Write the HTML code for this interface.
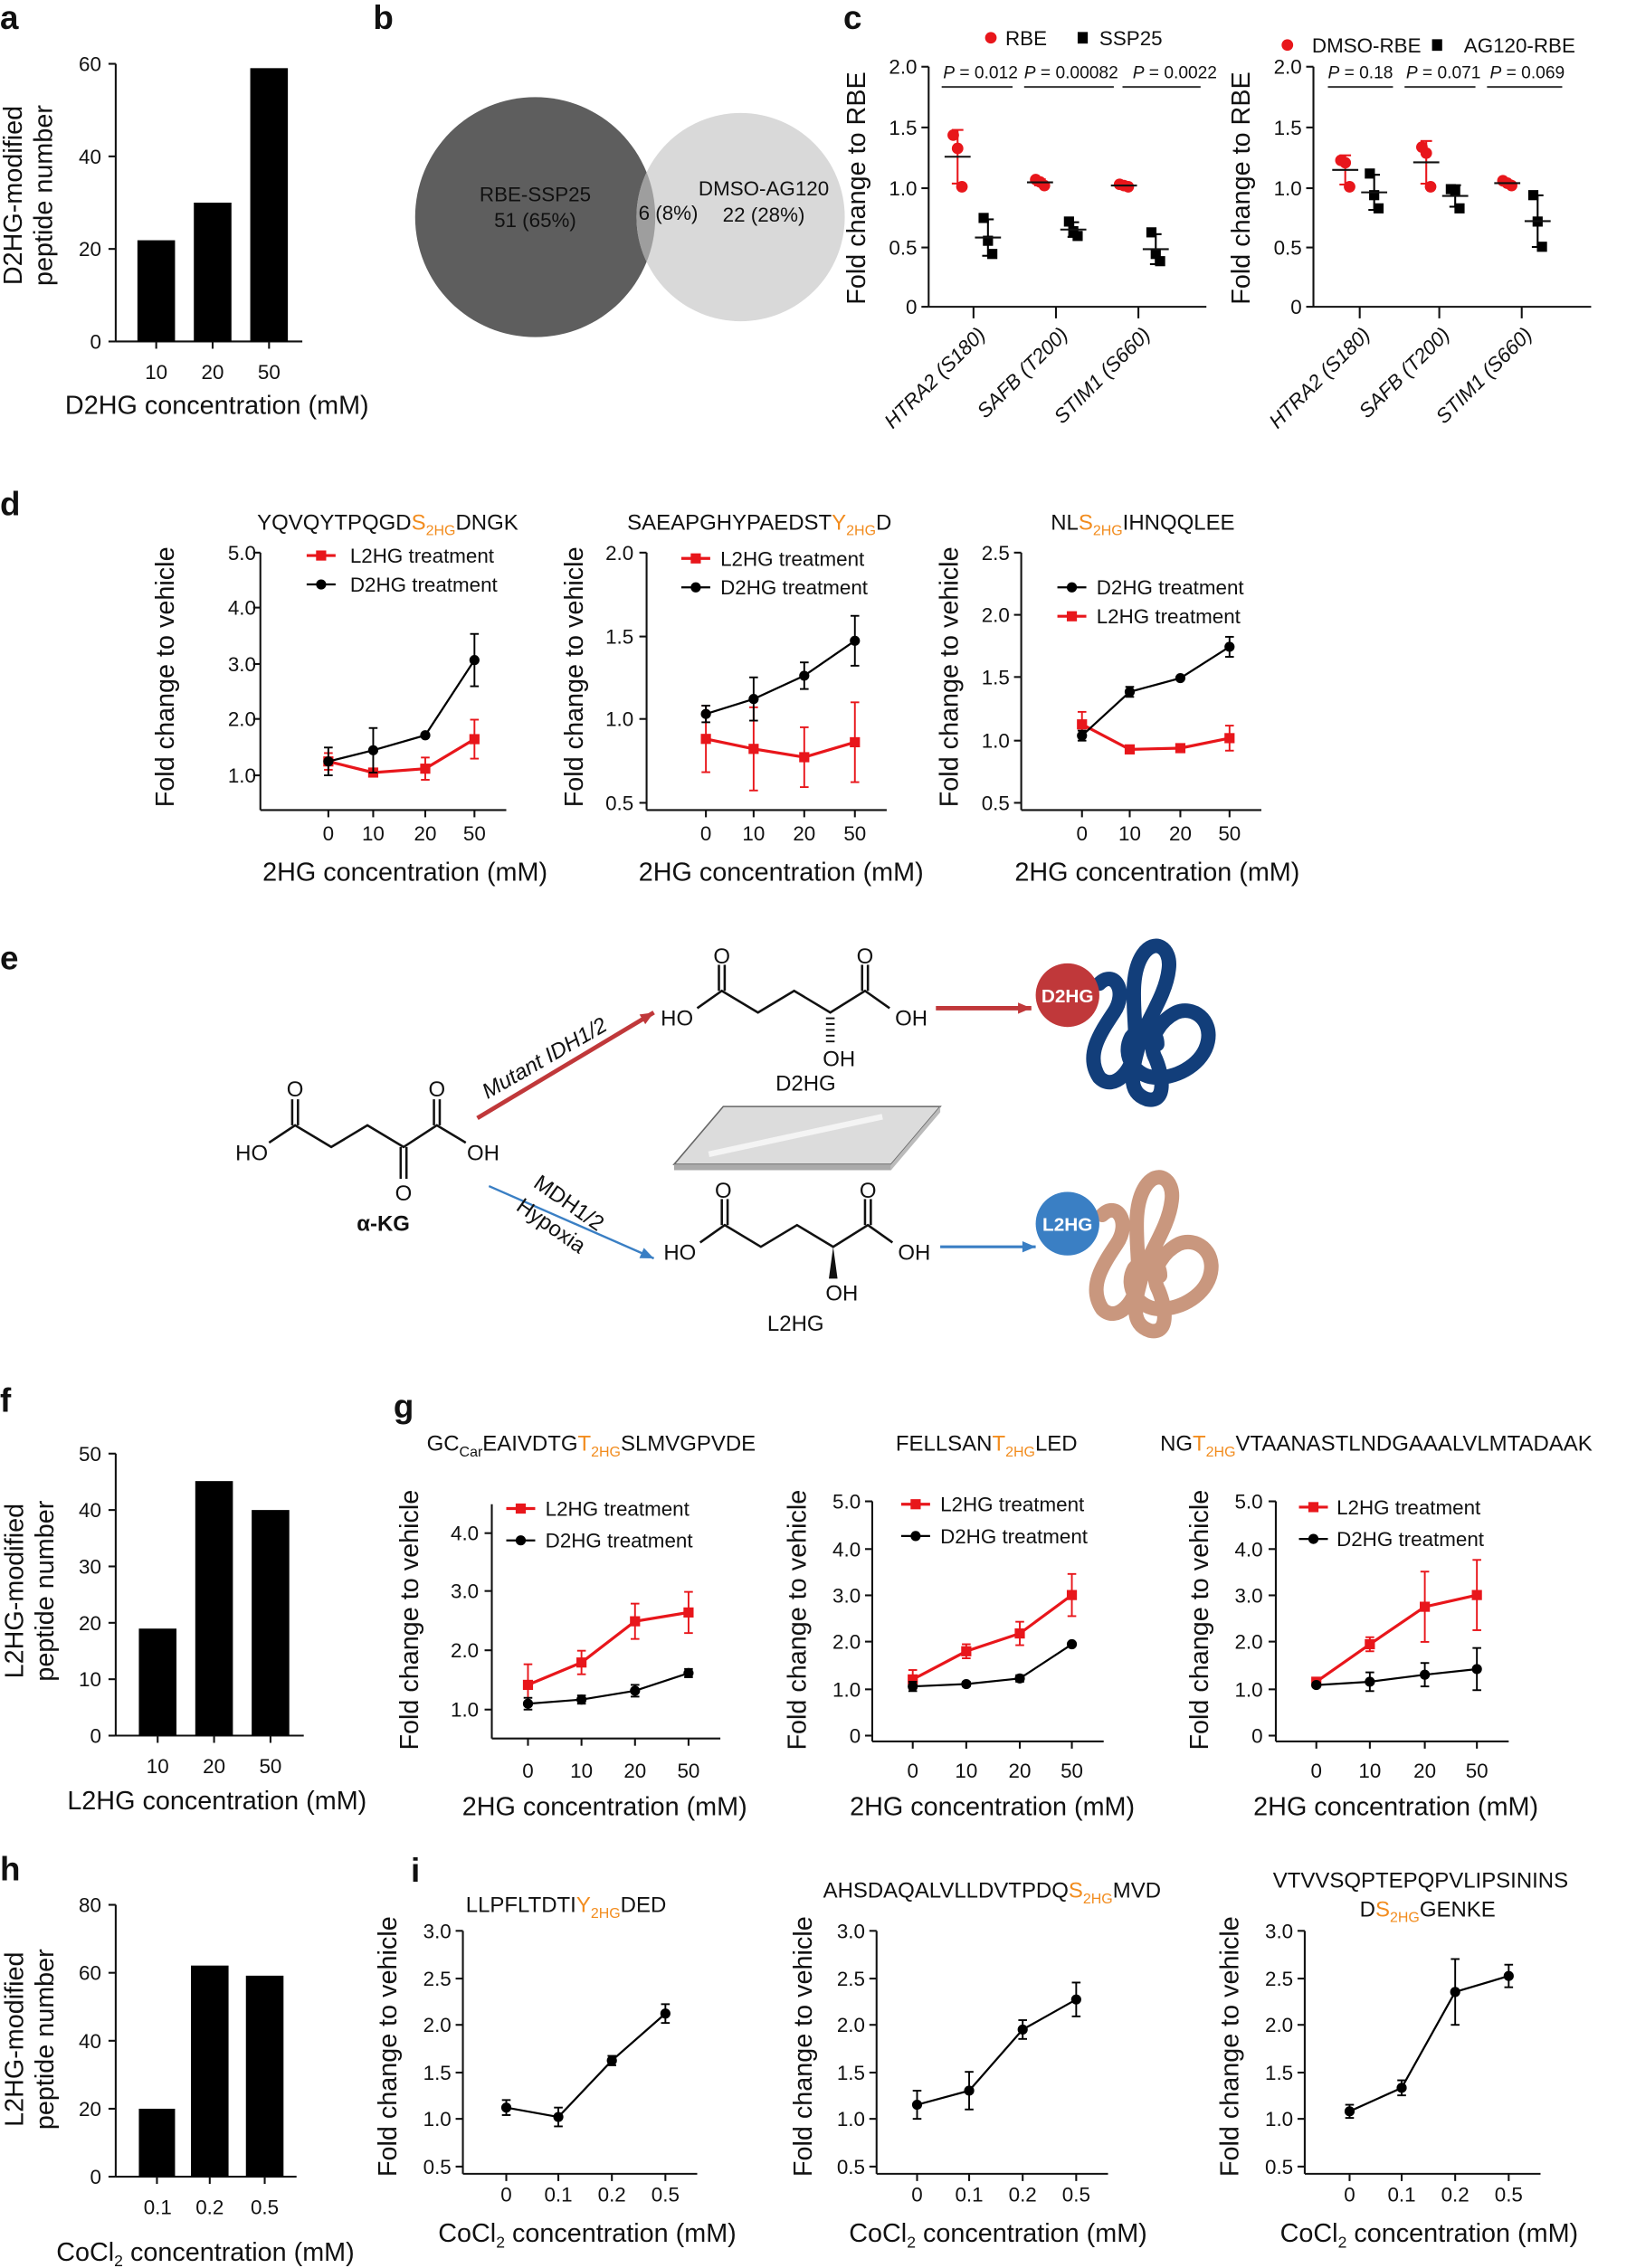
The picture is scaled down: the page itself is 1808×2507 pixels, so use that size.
<!DOCTYPE html>
<html><head><meta charset="utf-8">
<style>
html,body{margin:0;padding:0;background:#fff;}
svg{display:block;}
text{font-family:"Liberation Sans",sans-serif;fill:#111;}
.t{font-size:14px;}
.ax{font-size:18px;}
.pl{font-size:23px;font-weight:bold;}
.lg{font-size:14px;}
.o{fill:#f28c1e;}
</style></head><body>
<svg id="s" width="1808" height="2507" viewBox="0 0 1131 1568" xmlns="http://www.w3.org/2000/svg">
<g id="g" stroke-linecap="butt"></g>

<text class="pl" x="0" y="20">a</text>
<text class="pl" x="258" y="20">b</text>
<text class="pl" x="583" y="20">c</text>
<text class="pl" x="0" y="356">d</text>
<text class="pl" x="0" y="670">e</text>
<text class="pl" x="0" y="976">f</text>
<text class="pl" x="272" y="980">g</text>
<text class="pl" x="0" y="1300">h</text>
<text class="pl" x="284" y="1301">i</text>

<!-- a -->
<g class="t" text-anchor="end">
<text x="70" y="49">60</text><text x="70" y="113">40</text><text x="70" y="177">20</text><text x="70" y="241">0</text>
</g>
<g class="t" text-anchor="middle">
<text x="108" y="262">10</text><text x="147" y="262">20</text><text x="186" y="262">50</text>
</g>
<text class="ax" x="150" y="286" text-anchor="middle">D2HG concentration (mM)</text>
<text class="ax" transform="translate(15,135) rotate(-90)" text-anchor="middle">D2HG-modified</text>
<text class="ax" transform="translate(36,135) rotate(-90)" text-anchor="middle">peptide number</text>

<!-- b -->
<circle cx="370" cy="150" r="83" fill="#5e5e5e"/>
<circle cx="512" cy="150" r="72" fill="#d9d9d9"/>
<clipPath id="cb"><circle cx="370" cy="150" r="83"/></clipPath>
<circle cx="512" cy="150" r="72" fill="#9e9e9e" clip-path="url(#cb)"/>
<text class="t" x="370" y="139" text-anchor="middle" fill="#222">RBE-SSP25</text>
<text class="t" x="370" y="157" text-anchor="middle" fill="#222">51 (65%)</text>
<text class="t" x="462" y="152" text-anchor="middle" fill="#222">6 (8%)</text>
<text class="t" x="528" y="135" text-anchor="middle" fill="#222">DMSO-AG120</text>
<text class="t" x="528" y="153" text-anchor="middle" fill="#222">22 (28%)</text>

<!-- c -->
<g class="t" text-anchor="end">
<text x="634" y="51">2.0</text><text x="634" y="93">1.5</text><text x="634" y="135">1.0</text><text x="634" y="176">0.5</text><text x="634" y="217">0</text>
<text x="900" y="51">2.0</text><text x="900" y="93">1.5</text><text x="900" y="135">1.0</text><text x="900" y="176">0.5</text><text x="900" y="217">0</text>
</g>
<text class="ax" transform="translate(598,130) rotate(-90)" text-anchor="middle">Fold change to RBE</text>
<text class="ax" transform="translate(864,130) rotate(-90)" text-anchor="middle">Fold change to RBE</text>
<circle cx="685" cy="26" r="4" fill="#e8161b"/><text class="lg" x="695" y="31">RBE</text>
<rect x="745" y="22" width="7" height="8" fill="#000"/><text class="lg" x="760" y="31">SSP25</text>
<circle cx="890" cy="31" r="4" fill="#e8161b"/><text class="lg" x="907" y="36">DMSO-RBE</text>
<rect x="990" y="27" width="7" height="8" fill="#000"/><text class="lg" x="1012" y="36">AG120-RBE</text>
<g style="font-size:12px">
<text x="652" y="54"><tspan font-style="italic">P</tspan> = 0.012</text>
<text x="708" y="54"><tspan font-style="italic">P</tspan> = 0.00082</text>
<text x="783" y="54"><tspan font-style="italic">P</tspan> = 0.0022</text>
<text x="918" y="54"><tspan font-style="italic">P</tspan> = 0.18</text>
<text x="972" y="54"><tspan font-style="italic">P</tspan> = 0.071</text>
<text x="1030" y="54"><tspan font-style="italic">P</tspan> = 0.069</text>
</g>
<g class="t" text-anchor="end" font-style="italic">
<text transform="translate(682,232) rotate(-45)">HTRA2 (S180)</text>
<text transform="translate(739,232) rotate(-45)">SAFB (T200)</text>
<text transform="translate(796,232) rotate(-45)">STIM1 (S660)</text>
<text transform="translate(948,232) rotate(-45)">HTRA2 (S180)</text>
<text transform="translate(1003,232) rotate(-45)">SAFB (T200)</text>
<text transform="translate(1060,232) rotate(-45)">STIM1 (S660)</text>
</g>

<!-- d -->
<text class="t" x="268" y="366" text-anchor="middle" style="font-size:15px">YQVQYTPQGD<tspan class="o">S</tspan><tspan class="o" font-size="10" dy="4">2HG</tspan><tspan dy="-4">DNGK</tspan></text>
<text class="t" x="525" y="366" text-anchor="middle" style="font-size:15px">SAEAPGHYPAEDST<tspan class="o">Y</tspan><tspan class="o" font-size="10" dy="4">2HG</tspan><tspan dy="-4">D</tspan></text>
<text class="t" x="790" y="366" text-anchor="middle" style="font-size:15px">NL<tspan class="o">S</tspan><tspan class="o" font-size="10" dy="4">2HG</tspan><tspan dy="-4">IHNQQLEE</tspan></text>
<g class="t" text-anchor="end">
<text x="177" y="387">5.0</text><text x="177" y="425">4.0</text><text x="177" y="464">3.0</text><text x="177" y="502">2.0</text><text x="177" y="541">1.0</text>
<text x="438" y="387">2.0</text><text x="438" y="445">1.5</text><text x="438" y="502">1.0</text><text x="438" y="560">0.5</text>
<text x="698" y="387">2.5</text><text x="698" y="430">2.0</text><text x="698" y="473">1.5</text><text x="698" y="517">1.0</text><text x="698" y="560">0.5</text>
</g>
<g class="t" text-anchor="middle">
<text x="227" y="581">0</text><text x="258" y="581">10</text><text x="294" y="581">20</text><text x="328" y="581">50</text>
<text x="488" y="581">0</text><text x="521" y="581">10</text><text x="556" y="581">20</text><text x="591" y="581">50</text>
<text x="748" y="581">0</text><text x="781" y="581">10</text><text x="816" y="581">20</text><text x="850" y="581">50</text>
</g>
<g class="ax" text-anchor="middle">
<text x="280" y="609">2HG concentration (mM)</text>
<text x="540" y="609">2HG concentration (mM)</text>
<text x="800" y="609">2HG concentration (mM)</text>
<text transform="translate(120,468) rotate(-90)">Fold change to vehicle</text>
<text transform="translate(403,468) rotate(-90)">Fold change to vehicle</text>
<text transform="translate(662,468) rotate(-90)">Fold change to vehicle</text>
</g>
<g class="lg">
<text x="242" y="389">L2HG treatment</text><text x="242" y="409">D2HG treatment</text>
<text x="498" y="391">L2HG treatment</text><text x="498" y="411">D2HG treatment</text>
<text x="758" y="411">D2HG treatment</text><text x="758" y="431">L2HG treatment</text>
</g>

<!-- e -->
<g id="chem" fill="none" stroke="#111" stroke-width="1.6"></g>
<g style="font-size:15px" text-anchor="middle">
<text x="174" y="802">HO</text><text x="204" y="758">O</text><text x="302" y="758">O</text><text x="334" y="802">OH</text><text x="279" y="830">O</text>
<text x="468" y="709">HO</text><text x="499" y="666">O</text><text x="598" y="666">O</text><text x="630" y="709">OH</text><text x="580" y="737">OH</text>
<text x="557" y="754">D2HG</text>
<text x="470" y="871">HO</text><text x="500" y="828">O</text><text x="600" y="828">O</text><text x="632" y="871">OH</text><text x="582" y="899">OH</text>
<text x="550" y="920">L2HG</text>
</g>
<text x="265" y="851" text-anchor="middle" style="font-size:15px;font-weight:bold">α-KG</text>
<text transform="translate(337,760) rotate(-30)" style="font-size:15px;font-style:italic">Mutant IDH1/2</text>
<text transform="translate(368,820) rotate(35)" style="font-size:15px">MDH1/2</text>
<text transform="translate(356,836) rotate(35)" style="font-size:15px">Hypoxia</text>
<circle cx="738" cy="688" r="22" fill="#c0383a"/>
<text x="738" y="693" text-anchor="middle" style="font-size:13px;font-weight:bold;fill:#fff">D2HG</text>
<circle cx="738" cy="846" r="22" fill="#3a7fc4"/>
<text x="738" y="851" text-anchor="middle" style="font-size:13px;font-weight:bold;fill:#fff">L2HG</text>

<!-- f -->
<g class="t" text-anchor="end">
<text x="70" y="1010">50</text><text x="70" y="1049">40</text><text x="70" y="1088">30</text><text x="70" y="1127">20</text><text x="70" y="1166">10</text><text x="70" y="1205">0</text>
</g>
<g class="t" text-anchor="middle"><text x="109" y="1226">10</text><text x="148" y="1226">20</text><text x="187" y="1226">50</text></g>
<text class="ax" x="150" y="1251" text-anchor="middle">L2HG concentration (mM)</text>
<text class="ax" transform="translate(16,1100) rotate(-90)" text-anchor="middle">L2HG-modified</text>
<text class="ax" transform="translate(37,1100) rotate(-90)" text-anchor="middle">peptide number</text>

<!-- g -->
<text x="295" y="1003" style="font-size:15px">GC<tspan font-size="10" dy="4">Car</tspan><tspan dy="-4">EAIVDTG</tspan><tspan class="o">T</tspan><tspan class="o" font-size="10" dy="4">2HG</tspan><tspan dy="-4">SLMVGPVDE</tspan></text>
<text x="682" y="1003" text-anchor="middle" style="font-size:15px">FELLSAN<tspan class="o">T</tspan><tspan class="o" font-size="10" dy="4">2HG</tspan><tspan dy="-4">LED</tspan></text>
<text x="802" y="1003" style="font-size:15px">NG<tspan class="o">T</tspan><tspan class="o" font-size="10" dy="4">2HG</tspan><tspan dy="-4">VTAANASTLNDGAAALVLMTADAAK</tspan></text>
<g class="t" text-anchor="end">
<text x="331" y="1065">4.0</text><text x="331" y="1105">3.0</text><text x="331" y="1146">2.0</text><text x="331" y="1187">1.0</text>
<text x="595" y="1043">5.0</text><text x="595" y="1076">4.0</text><text x="595" y="1108">3.0</text><text x="595" y="1140">2.0</text><text x="595" y="1173">1.0</text><text x="595" y="1205">0</text>
<text x="873" y="1043">5.0</text><text x="873" y="1076">4.0</text><text x="873" y="1108">3.0</text><text x="873" y="1140">2.0</text><text x="873" y="1173">1.0</text><text x="873" y="1205">0</text>
</g>
<g class="t" text-anchor="middle">
<text x="365" y="1229">0</text><text x="402" y="1229">10</text><text x="439" y="1229">20</text><text x="476" y="1229">50</text>
<text x="631" y="1229">0</text><text x="668" y="1229">10</text><text x="705" y="1229">20</text><text x="741" y="1229">50</text>
<text x="910" y="1229">0</text><text x="947" y="1229">10</text><text x="985" y="1229">20</text><text x="1021" y="1229">50</text>
</g>
<g class="ax" text-anchor="middle">
<text x="418" y="1255">2HG concentration (mM)</text>
<text x="686" y="1255">2HG concentration (mM)</text>
<text x="965" y="1255">2HG concentration (mM)</text>
<text transform="translate(289,1120) rotate(-90)">Fold change to vehicle</text>
<text transform="translate(557,1120) rotate(-90)">Fold change to vehicle</text>
<text transform="translate(835,1120) rotate(-90)">Fold change to vehicle</text>
</g>
<g class="lg">
<text x="377" y="1048">L2HG treatment</text><text x="377" y="1070">D2HG treatment</text>
<text x="650" y="1045">L2HG treatment</text><text x="650" y="1067">D2HG treatment</text>
<text x="924" y="1047">L2HG treatment</text><text x="924" y="1069">D2HG treatment</text>
</g>

<!-- h -->
<g class="t" text-anchor="end">
<text x="70" y="1322">80</text><text x="70" y="1369">60</text><text x="70" y="1416">40</text><text x="70" y="1463">20</text><text x="70" y="1510">0</text>
</g>
<g class="t" text-anchor="middle"><text x="109" y="1531">0.1</text><text x="145" y="1531">0.2</text><text x="183" y="1531">0.5</text></g>
<text class="ax" x="142" y="1563" text-anchor="middle">CoCl<tspan font-size="11" dy="4">2</tspan><tspan dy="-4"> concentration (mM)</tspan></text>
<text class="ax" transform="translate(16,1410) rotate(-90)" text-anchor="middle">L2HG-modified</text>
<text class="ax" transform="translate(37,1410) rotate(-90)" text-anchor="middle">peptide number</text>

<!-- i -->
<text x="322" y="1322" style="font-size:15px">LLPFLTDTI<tspan class="o">Y</tspan><tspan class="o" font-size="10" dy="4">2HG</tspan><tspan dy="-4">DED</tspan></text>
<text x="569" y="1312" style="font-size:15px">AHSDAQALVLLDVTPDQ<tspan class="o">S</tspan><tspan class="o" font-size="10" dy="4">2HG</tspan><tspan dy="-4">MVD</tspan></text>
<text x="880" y="1305" style="font-size:15px">VTVVSQPTEPQPVLIPSININS</text>
<text x="940" y="1325" style="font-size:15px">D<tspan class="o">S</tspan><tspan class="o" font-size="10" dy="4">2HG</tspan><tspan dy="-4">GENKE</tspan></text>
<g class="t" text-anchor="end">
<text x="312" y="1340">3.0</text><text x="312" y="1373">2.5</text><text x="312" y="1405">2.0</text><text x="312" y="1438">1.5</text><text x="312" y="1470">1.0</text><text x="312" y="1503">0.5</text>
<text x="598" y="1340">3.0</text><text x="598" y="1373">2.5</text><text x="598" y="1405">2.0</text><text x="598" y="1438">1.5</text><text x="598" y="1470">1.0</text><text x="598" y="1503">0.5</text>
<text x="894" y="1340">3.0</text><text x="894" y="1373">2.5</text><text x="894" y="1405">2.0</text><text x="894" y="1438">1.5</text><text x="894" y="1470">1.0</text><text x="894" y="1503">0.5</text>
</g>
<g class="t" text-anchor="middle">
<text x="350" y="1522">0</text><text x="386" y="1522">0.1</text><text x="423" y="1522">0.2</text><text x="460" y="1522">0.5</text>
<text x="634" y="1522">0</text><text x="670" y="1522">0.1</text><text x="707" y="1522">0.2</text><text x="744" y="1522">0.5</text>
<text x="933" y="1522">0</text><text x="969" y="1522">0.1</text><text x="1006" y="1522">0.2</text><text x="1043" y="1522">0.5</text>
</g>
<g class="ax" text-anchor="middle">
<text x="406" y="1550">CoCl<tspan font-size="11" dy="4">2</tspan><tspan dy="-4"> concentration (mM)</tspan></text>
<text x="690" y="1550">CoCl<tspan font-size="11" dy="4">2</tspan><tspan dy="-4"> concentration (mM)</tspan></text>
<text x="988" y="1550">CoCl<tspan font-size="11" dy="4">2</tspan><tspan dy="-4"> concentration (mM)</tspan></text>
<text transform="translate(274,1415) rotate(-90)">Fold change to vehicle</text>
<text transform="translate(561,1415) rotate(-90)">Fold change to vehicle</text>
<text transform="translate(856,1415) rotate(-90)">Fold change to vehicle</text>
</g>
</svg>
<script>
var G=document.getElementById('g');var NS='http://www.w3.org/2000/svg';
function el(t,a,p){var e=document.createElementNS(NS,t);for(var k in a)e.setAttribute(k,a[k]);(p||G).appendChild(e);return e;}
function ln(x1,y1,x2,y2,c,w){el('line',{x1:x1,y1:y1,x2:x2,y2:y2,stroke:c||'#111','stroke-width':w||1.3});}
var RED='#e8161b';
function bars(ax,ytop,ybot,ticks,bs){ln(ax,ytop,ax,ybot);ln(ax,ybot,bs[bs.length-1][0]+bs[0][1]+10,ybot);
 ticks.forEach(function(y){ln(ax-5,y,ax,y);});
 bs.forEach(function(b){el('rect',{x:b[0],y:b[2],width:b[1],height:ybot-b[2],fill:'#000'});ln(b[0]+b[1]/2,ybot,b[0]+b[1]/2,ybot+5);});}
bars(80,44,236,[44,108,172,236],[[95,26,166],[134,26,140],[173,26,47]]);
bars(80,1005,1200,[1005,1044,1083,1122,1161,1200],[[96,26,1126],[135,26,1024],[174,26,1044]]);
bars(80,1317,1505,[1317,1364,1411,1458,1505],[[96,25,1458],[132,26,1359],[170,26,1366]]);
function dots(ax,xs,ps,pl){var y=function(v){return 212-83*v;};
 ln(ax,46,ax,212);ln(ax,212,ax+192,212);[46,88,130,171,212].forEach(function(t){ln(ax-5,t,ax,t);});
 xs.forEach(function(x){ln(x,212,x,220);});
 pl.forEach(function(p){ln(p[0],60,p[1],60,'#333',1.2);});
 ps.forEach(function(g){var m=g.v.reduce(function(a,b){return a+b;})/3;var sd=Math.sqrt(g.v.reduce(function(a,b){return a+(b-m)*(b-m);},0)/2);
  ln(g.x,y(m-sd),g.x,y(m+sd),g.c,1.3);ln(g.x-4,y(m+sd),g.x+4,y(m+sd),g.c,1.3);ln(g.x-4,y(m-sd),g.x+4,y(m-sd),g.c,1.3);
  g.v.forEach(function(v,i){var xx=g.x+(i-1)*3;if(g.c==RED)el('circle',{cx:xx,cy:y(v),r:4,fill:RED});else el('rect',{x:xx-3.5,y:y(v)-3.5,width:7,height:7,fill:'#000'});});
  ln(g.x-9,y(m),g.x+9,y(m),'#111',1.3);});}
dots(642,[673,730,787],[{x:662,c:RED,v:[1.43,1.32,1.0]},{x:683,c:'#000',v:[0.74,0.55,0.44]},{x:719,c:RED,v:[1.06,1.04,1.01]},{x:742,c:'#000',v:[0.71,0.63,0.59]},{x:777,c:RED,v:[1.02,1.01,1.0]},{x:799,c:'#000',v:[0.62,0.44,0.38]}],[[651,700],[708,770],[776,830]]);
dots(908,[940,995,1052],[{x:930,c:RED,v:[1.22,1.2,1.0]},{x:950,c:'#000',v:[1.11,0.93,0.82]},{x:986,c:RED,v:[1.33,1.28,1.0]},{x:1006,c:'#000',v:[0.98,0.97,0.82]},{x:1042,c:RED,v:[1.05,1.03,1.01]},{x:1063,c:'#000',v:[0.93,0.71,0.5]}],[[918,963],[971,1020],[1028,1080]]);
function lp(o){ln(o.ax,o.top,o.ax,o.bot);ln(o.ax,o.bot,o.xs[3]+22,o.bot);o.ty.forEach(function(t){ln(o.ax-5,t,o.ax,t);});
 o.xs.forEach(function(x){ln(x,o.bot,x,o.bot+5);});
 o.s.forEach(function(s){var c=s.r?RED:'#000';var pts=s.v.map(function(v,i){return o.xs[i]+','+o.y(v);}).join(' ');
  el('polyline',{points:pts,fill:'none',stroke:c,'stroke-width':s.r?2:1.4});
  s.v.forEach(function(v,i){var x=o.xs[i],e=s.e[i];if(e>0){ln(x,o.y(v-e),x,o.y(v+e),c,1.2);ln(x-3,o.y(v-e),x+3,o.y(v-e),c,1.2);ln(x-3,o.y(v+e),x+3,o.y(v+e),c,1.2);}
   if(s.r)el('rect',{x:x-3.5,y:o.y(v)-3.5,width:7,height:7,fill:RED});else el('circle',{cx:x,cy:o.y(v),r:3.5,fill:'#000'});});});
 (o.lg||[]).forEach(function(l){var c=l[2]?RED:'#000';ln(l[0],l[1],l[0]+20,l[1],c,l[2]?2:1.4);if(l[2])el('rect',{x:l[0]+6.5,y:l[1]-3.5,width:7,height:7,fill:RED});else el('circle',{cx:l[0]+10,cy:l[1],r:3.5,fill:'#000'});});}
lp({ax:180,top:382,bot:560,ty:[382,420,459,497,536],xs:[227,258,294,328],y:function(v){return 536-38.5*(v-1);},
 s:[{r:1,v:[1.25,1.05,1.12,1.65],e:[0.15,0.05,0.2,0.35]},{r:0,v:[1.25,1.45,1.72,3.07],e:[0.25,0.4,0,0.47]}],lg:[[212,384,1],[212,404,0]]});
lp({ax:447,top:382,bot:560,ty:[382,440,497,555],xs:[488,521,556,591],y:function(v){return 497-115*(v-1);},
 s:[{r:1,v:[0.88,0.82,0.77,0.86],e:[0.2,0.25,0.18,0.24]},{r:0,v:[1.03,1.12,1.26,1.47],e:[0.05,0.13,0.08,0.15]}],lg:[[471,386,1],[471,406,0]]});
lp({ax:706,top:382,bot:560,ty:[382,425,468,512,555],xs:[748,781,816,850],y:function(v){return 512-86.5*(v-1);},
 s:[{r:1,v:[1.13,0.93,0.94,1.02],e:[0.1,0,0.03,0.1]},{r:0,v:[1.04,1.39,1.5,1.75],e:[0.04,0.04,0,0.08]}],lg:[[731,406,0],[731,426,1]]});
var gy=function(v){return 1200-32.4*v;};
lp({ax:340,top:1040,bot:1202,ty:[1060,1100,1141,1182],xs:[365,402,439,476],y:function(v){return 1182-40.7*(v-1);},
 s:[{r:1,v:[1.42,1.8,2.5,2.65],e:[0.35,0.2,0.3,0.35]},{r:0,v:[1.1,1.17,1.32,1.62],e:[0.1,0.07,0.1,0.07]}],lg:[[350,1043,1],[350,1065,0]]});
lp({ax:603,top:1038,bot:1204,ty:[1038,1071,1103,1135,1168,1200],xs:[631,668,705,741],y:gy,
 s:[{r:1,v:[1.2,1.8,2.18,3.0],e:[0.2,0.15,0.25,0.45]},{r:0,v:[1.05,1.1,1.22,1.95],e:[0.1,0.05,0.07,0]}],lg:[[623,1040,1],[623,1062,0]]});
lp({ax:882,top:1038,bot:1204,ty:[1038,1071,1103,1135,1168,1200],xs:[910,947,985,1021],y:gy,
 s:[{r:1,v:[1.15,1.95,2.75,3.0],e:[0.05,0.15,0.75,0.75]},{r:0,v:[1.08,1.15,1.3,1.42],e:[0.05,0.2,0.25,0.45]}],lg:[[898,1042,1],[898,1064,0]]});
var iy=function(v){return 1465-65*(v-1);};
lp({ax:320,top:1335,bot:1503,ty:[1335,1368,1400,1433,1465,1498],xs:[350,386,423,460],y:iy,s:[{r:0,v:[1.12,1.02,1.62,2.12],e:[0.08,0.1,0.05,0.1]}]});
lp({ax:606,top:1335,bot:1503,ty:[1335,1368,1400,1433,1465,1498],xs:[634,670,707,744],y:iy,s:[{r:0,v:[1.15,1.3,1.95,2.27],e:[0.15,0.2,0.1,0.18]}]});
lp({ax:902,top:1335,bot:1503,ty:[1335,1368,1400,1433,1465,1498],xs:[933,969,1006,1043],y:iy,s:[{r:0,v:[1.08,1.33,2.35,2.52],e:[0.07,0.08,0.35,0.12]}]});
var C=document.getElementById('chem');
function pl(pts,a){var e=el('polyline',{points:pts},C);if(a)for(var k in a)e.setAttribute(k,a[k]);}
function dbl(x,y1,y2){pl(x-2+','+y1+' '+(x-2)+','+y2);pl(x+2+','+y1+' '+(x+2)+','+y2);}
pl('186,790 204,778 229,793 254,778 279,793 302,778 322,790');dbl(204,778,760);dbl(302,778,760);dbl(279,793,815);
function hg(dx,dy,wedge){pl((482+dx)+','+(697+dy)+' '+(499+dx)+','+(685+dy)+' '+(524+dx)+','+(700+dy)+' '+(549+dx)+','+(685+dy)+' '+(574+dx)+','+(700+dy)+' '+(598+dx)+','+(685+dy)+' '+(615+dx)+','+(697+dy));
 dbl(499+dx,685+dy,667+dy);dbl(598+dx,685+dy,667+dy);
 if(wedge)el('polygon',{points:(574+dx)+','+(700+dy)+' '+(571+dx)+','+(722+dy)+' '+(577+dx)+','+(722+dy),fill:'#111',stroke:'none'},C);
 else for(var i=0;i<5;i++)pl((571+dx)+','+(704+dy+i*4)+' '+(577+dx)+','+(704+dy+i*4),{'stroke-width':1.2});}
hg(0,0,false);hg(2,162,true);
function arr(x1,y1,x2,y2,c,w){ln(x1,y1,x2,y2,c,w);var a=Math.atan2(y2-y1,x2-x1),L=10;
 el('polygon',{points:x2+','+y2+' '+(x2-L*Math.cos(a-0.4))+','+(y2-L*Math.sin(a-0.4))+' '+(x2-L*Math.cos(a+0.4))+','+(y2-L*Math.sin(a+0.4)),fill:c});}
arr(330,773,452,700,'#c0383a',3);arr(338,820,452,870,'#3a7fc4',1.5);
arr(647,697,713,697,'#c0383a',3);arr(650,862,716,862,'#3a7fc4',2);
el('polygon',{points:'466,805 500,765 650,765 616,805',fill:'#dcdcdc',stroke:'#666','stroke-width':1});
el('polygon',{points:'466,805 616,805 616,809 466,809',fill:'#aaa'});
el('polygon',{points:'616,805 650,765 650,769 616,809',fill:'#bbb'});
ln(490,798,610,772,'#f4f4f4',4);
function blob(dx,dy,c){el('path',{d:'M'+(760+dx)+','+(680+dy)+' c10,-10 20,5 10,20 c-10,15 -20,30 -10,45 c10,10 25,-5 25,-25 c0,-20 -5,-45 5,-60 c8,-12 20,-5 18,10 c-2,18 -15,35 -20,50 c-5,18 -10,35 5,40 c15,3 10,-20 5,-30 c-5,-12 5,-25 15,-30 c12,-5 25,5 22,20 c-3,15 -20,25 -35,25 c-15,0 -25,-15 -18,-28 c8,-10 18,-5 18,5',
 fill:'none',stroke:c,'stroke-width':10,'stroke-linecap':'round','stroke-linejoin':'round'});}
blob(0,0,'#123e7a');blob(2,160,'#c9977e');
</script>
</body></html>
